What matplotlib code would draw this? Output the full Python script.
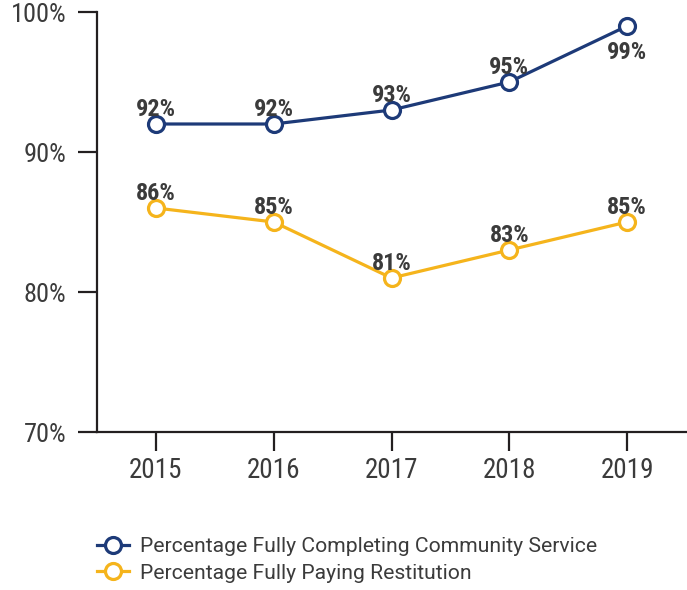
import matplotlib.pyplot as plt

years = ["2015", "2016", "2017", "2018", "2019"]
community = [92, 92, 93, 95, 99]
restitution = [86, 85, 81, 83, 85]
labels_cs = ["Percentage Fully Completing Community Service", "Percentage Fully Paying Restitution"]
y_ticks = [70, 80, 90, 100]

navy = "#1d3a78"
gold = "#f5b41c"
txt = "#3b3b3b"
ink = "#231f20"

plt.rcParams['font.family'] = ['Roboto Condensed', 'Roboto', 'DejaVu Sans']

fig = plt.figure(figsize=(6.87, 5.9), dpi=100)
ax = fig.add_axes([97/687, 158/590, 589/687, 420/590])

x = list(range(len(years)))
mk = dict(marker='o', markersize=11.5, markerfacecolor='white', markeredgewidth=2.3, linewidth=2.3)
l1, = ax.plot(x, community, color=navy, label=labels_cs[0], **mk)
l2, = ax.plot(x, restitution, color=gold, label=labels_cs[1], **mk)

# étiquettes de valeurs (99% en dessous du point)
for xi, v in zip(x, community):
    dy = -24 if v == max(community) else 6
    ax.annotate(f"{v}%", (xi, v), xytext=(0, dy), textcoords='offset points',
                ha='center', va='baseline', fontsize=17.5, fontweight='bold', color=txt)
for xi, v in zip(x, restitution):
    ax.annotate(f"{v}%", (xi, v), xytext=(0, 6), textcoords='offset points',
                ha='center', va='baseline', fontsize=17.5, fontweight='bold', color=txt)

ax.set_xlim(-0.5, 4.5)
ax.set_ylim(70, 100)
ax.set_xticks(x)
ax.set_xticklabels(years)
ax.set_yticks(y_ticks)
ax.set_yticklabels([f"{t}%" for t in y_ticks])

for s in ['top', 'right']:
    ax.spines[s].set_visible(False)
for s in ['left', 'bottom']:
    ax.spines[s].set_color(ink)
    ax.spines[s].set_linewidth(1.6)
ax.tick_params(axis='both', length=14, width=1.6, color=ink, labelcolor=txt)
ax.tick_params(axis='y', pad=8, labelsize=19)
ax.tick_params(axis='x', pad=4, labelsize=19.5)

leg = fig.legend(handles=[l1, l2], loc='upper left', bbox_to_anchor=(89/687, 1 - 529/590),
                 frameon=False, labelcolor=txt, handlelength=1.5,
                 handletextpad=0.5, labelspacing=0.35, borderaxespad=0,
                 prop={'family': 'Roboto', 'size': 15.2})

fig.savefig("out.png", dpi=100)
